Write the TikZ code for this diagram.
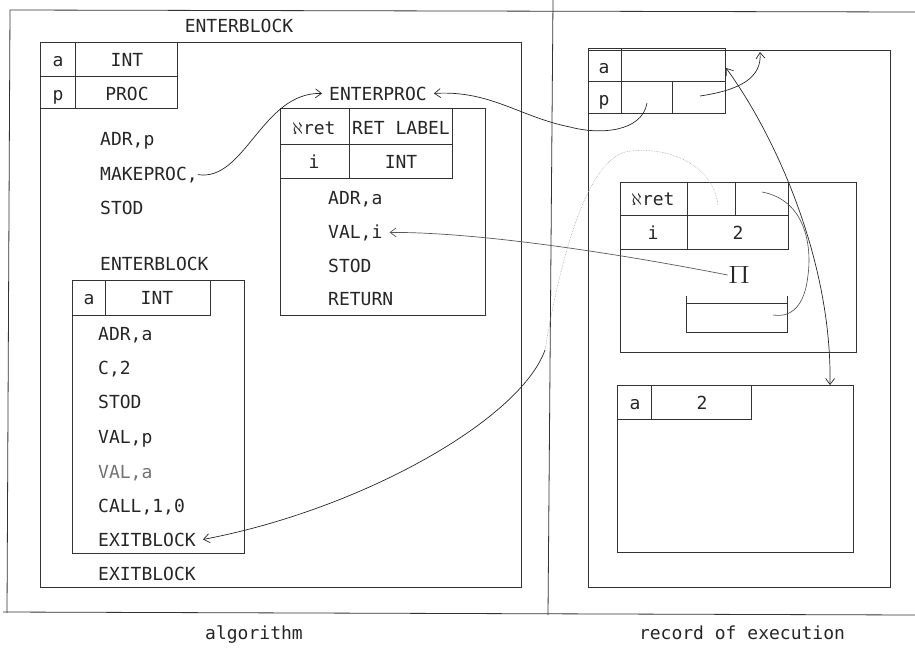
\documentclass[tikz,border=0pt]{standalone}
\usepackage{fontspec}
\usepackage{graphicx}
\newfontfamily\typew{DejaVu Sans Mono}
\usetikzlibrary{arrows.meta}

\tikzset{
  txt/.style={inner sep=0pt, font=\typew\fontsize{18}{20}\selectfont, text=black!85},
  code/.style={txt, anchor=base west},
  cell/.style={txt, anchor=base},
  box/.style={line width=0.8pt, draw=black!80},
  link/.style={line width=0.7pt, draw=black!85, -{Straight Barb[length=6pt,width=9pt]}},
  faint/.style={line width=0.6pt, draw=black!35, densely dotted},
}

\begin{document}
\begin{tikzpicture}[x=1pt, y=-1pt]
	\useasboundingbox (0,0) rectangle (915,648);

	\draw[box] (10,10) -- (915,12);
	\draw[box] (10,10) -- (7,613);
	\draw[box] (3,612) -- (915,615);
	\draw[box] (553,0) -- (548,615);

	\node[cell] (title) at (239,32) {ENTERBLOCK};
	\draw[box] (40,42) rectangle (521,587);
	\draw[box] (40,42) rectangle (177,108);
	\draw[box] (40,76) -- (177,76);
	\draw[box] (75,42) -- (75,108);
	\node[cell] at (58,66) {a};
	\node[cell] at (127,66) {INT};
	\node[cell] at (58,100) {p};
	\node[cell] at (127,100) {PROC};

	\node[code] (adrp) at (100,145) {ADR,p};
	\node[code] (mkproc) at (100,180) {MAKEPROC,};
	\node[code] (stod) at (100,214) {STOD};
	\node[code] (enterblk) at (100,270) {ENTERBLOCK};

	\draw[box] (72,280) rectangle (244,553);
	\draw[box] (72,315) -- (210,315) -- (210,280);
	\draw[box] (105,280) -- (105,315);
	\node[cell] at (89,304) {a};
	\node[cell] at (157,304) {INT};
	\node[code] at (98,340) {ADR,a};
	\node[code] at (98,374) {C,2};
	\node[code] at (98,408) {STOD};
	\node[code] at (98,443) {VAL,p};
	\node[code, text=black!55] at (98,478) {VAL,a};
	\node[code] at (98,512) {CALL,1,0};
	\node[code] (exitblk) at (98,546) {EXITBLOCK};
	\node[code] (exitouter) at (98,580) {EXITBLOCK};

	\node[code] (eproc) at (329,100) {ENTERPROC};
	\draw[box] (280,108) rectangle (485,315);
	\draw[box] (280,144) -- (452,144);
	\draw[box] (280,178) -- (452,178) -- (452,108);
	\draw[box] (349,108) -- (349,178);
	\node[cell] at (314,134) {$\aleph$ret};
	\node[cell] at (401,134) {RET LABEL};
	\node[cell] at (314,168) {i};
	\node[cell] at (401,168) {INT};
	\node[code] at (328,204) {ADR,a};
	\node[code] (vali) at (328,238) {VAL,i};
	\node[code] at (328,272) {STOD};
	\node[code] at (328,305) {RETURN};

	\draw[box] (588,50) rectangle (890,587);
	\draw[box] (588,48) rectangle (725,113);
	\draw[box] (588,81) -- (725,81);
	\draw[box] (621,48) -- (621,113);
	\draw[box] (672,81) -- (672,113);
	\node[cell] at (604,73) {a};
	\node[cell] at (604,105) {p};

	\draw[box] (620,182) rectangle (856,352);
	\draw[box] (620,215) -- (788,215);
	\draw[box] (620,249) -- (788,249) -- (788,182);
	\draw[box] (687,182) -- (687,249);
	\draw[box] (735,182) -- (735,215);
	\node[cell] at (653,205) {$\aleph$ret};
	\node[cell] at (653,239) {i};
	\node[cell] at (738,239) {2};
	\node[txt, font=\fontsize{32}{32}\selectfont] (pi) at (739,275) {\scalebox{1.3}[1]{$\Pi$}};

	\draw[box] (686,303) rectangle (787,332);
	\draw[box] (686,296) -- (686,303);
	\draw[box] (787,296) -- (787,303);

	\draw[box] (617,385) rectangle (853,552);
	\draw[box] (617,419) -- (751,419) -- (751,385);
	\draw[box] (651,385) -- (651,419);
	\node[cell] at (635,409) {a};
	\node[cell] at (702,409) {2};

	\node[cell] (alg) at (254,639) {algorithm};
	\node[cell] (rec) at (742,639) {record of execution};

	\coordinate (ppcell) at (647,103);
	\coordinate (pqcell) at (700,96);
	\coordinate (atop) at (760,52);
	\coordinate (arow) at (726,68);
	\coordinate (lowtop) at (830,385);
	\coordinate (retcell) at (762,192);
	\coordinate (smallbox) at (773,315);
	\coordinate (rlab) at (718,205);
	\coordinate (rfade) at (545,350);

	\draw[link] (mkproc.east) .. controls (245,182) and (262,92) .. ([xshift=-7pt]eproc.west);
	\draw[link] (ppcell) .. controls (642,132) and (600,135) .. (570,127) .. controls (520,117) and (490,90) .. ([xshift=7pt]eproc.east);
	\draw[link] (pqcell) .. controls (740,90) and (762,78) .. (atop);
	\draw[line width=0.7pt, draw=black!85, {Straight Barb[length=6pt,width=9pt]}-{Straight Barb[length=6pt,width=9pt]}] (arow) .. controls (775,135) and (832,260) .. (lowtop);
	\draw[line width=0.6pt, draw=black!70] (retcell) .. controls (805,200) and (812,245) .. (808,275) .. controls (805,305) and (792,318) .. (smallbox);
	\draw[link, draw=black!65] (pi.west) .. controls (600,250) and (470,232) .. ([xshift=7pt]vali.east);
	\draw[faint] (rlab) .. controls (712,160) and (660,145) .. (625,152) .. controls (580,165) and (555,290) .. (rfade);
	\draw[link] (rfade) .. controls (520,420) and (360,510) .. ([xshift=7pt]exitblk.east);
\end{tikzpicture}
\end{document}
